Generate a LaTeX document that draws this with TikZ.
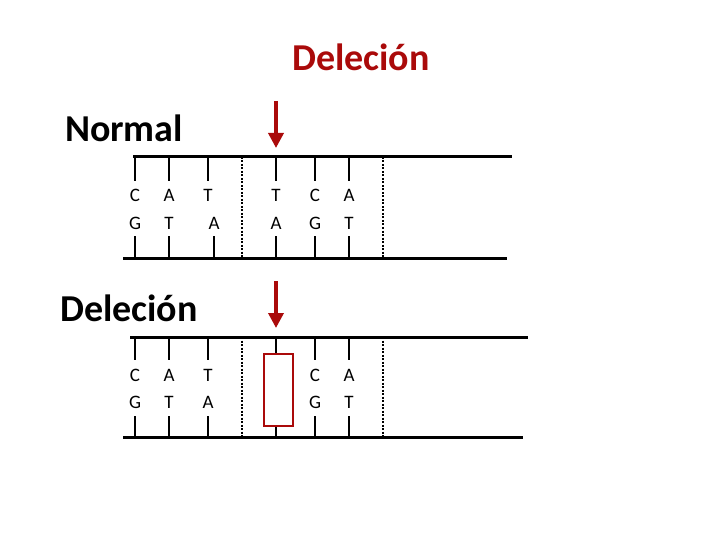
\documentclass[tikz,border=0pt]{standalone}
\usepackage{fontspec}
\setmainfont{Carlito}
\usetikzlibrary{arrows.meta}
\begin{document}
\begin{tikzpicture}[x=1pt,y=-1pt,
  strand/.style={line width=3pt},
  tick/.style={line width=2pt},
  sep/.style={line width=1.6pt,dash pattern=on 2pt off 1.5pt},
  base/.style={font=\fontsize{19}{19}\selectfont,inner sep=0pt},
  title/.style={font=\bfseries\fontsize{38}{38}\selectfont,inner sep=0pt},
  redarrow/.style={draw={rgb,255:red,170;green,10;blue,10},line width=3.5pt,-{Triangle[length=15pt,width=15pt]}}]
\useasboundingbox (0,0) rectangle (720,540);
\definecolor{dred}{RGB}{170,10,10}
% titles
\node[title,text=dred] (t0) at (361,57) {Deleción};
\node[title] (t1) at (124,128) {Normal};
\node[title] (t2) at (129,308) {Deleción};
% arrows
\coordinate (a1s) at (276,101); \coordinate (a1e) at (276,148);
\draw[redarrow] (a1s) -- (a1e);
\coordinate (a2s) at (276,281); \coordinate (a2e) at (276,328);
\draw[redarrow] (a2s) -- (a2e);
% top helix
\coordinate (s1a) at (133,157); \coordinate (s1b) at (512,157);
\coordinate (s2a) at (123,258); \coordinate (s2b) at (507,258);
\draw[strand] (s1a) -- (s1b);
\draw[strand] (s2a) -- (s2b);
\foreach \x/\t/\b/\bx in {135/C/G/135,169/A/T/169,208/T/A/214,276/T/A/276,315/C/G/315,349/A/T/349}{
  \draw[tick] (\x,157) -- (\x,181);
  \draw[tick] (\bx,236) -- (\bx,258);
  \node[base] at (\x,195) {\t};
  \node[base] at (\bx,223) {\b};
}
\draw[sep] (242,157) -- (242,258);
\draw[sep] (383,157) -- (383,258);
% bottom helix
\coordinate (s3a) at (130,337); \coordinate (s3b) at (528,337);
\coordinate (s4a) at (123,437); \coordinate (s4b) at (523,437);
\draw[strand] (s3a) -- (s3b);
\draw[strand] (s4a) -- (s4b);
\foreach \x/\t/\b in {135/C/G,169/A/T,208/T/A,315/C/G,349/A/T}{
  \draw[tick] (\x,337) -- (\x,360);
  \draw[tick] (\x,416) -- (\x,437);
  \node[base] at (\x,375) {\t};
  \node[base] at (\x,402) {\b};
}
\draw[tick] (276,337) -- (276,354);
\draw[tick] (276,426) -- (276,437);
\node[draw=dred,line width=2.5pt,minimum width=29pt,minimum height=72pt,inner sep=0pt] (box) at (278.5,390) {};
\draw[sep] (242,337) -- (242,437);
\draw[sep] (383,337) -- (383,437);
\end{tikzpicture}
\end{document}
